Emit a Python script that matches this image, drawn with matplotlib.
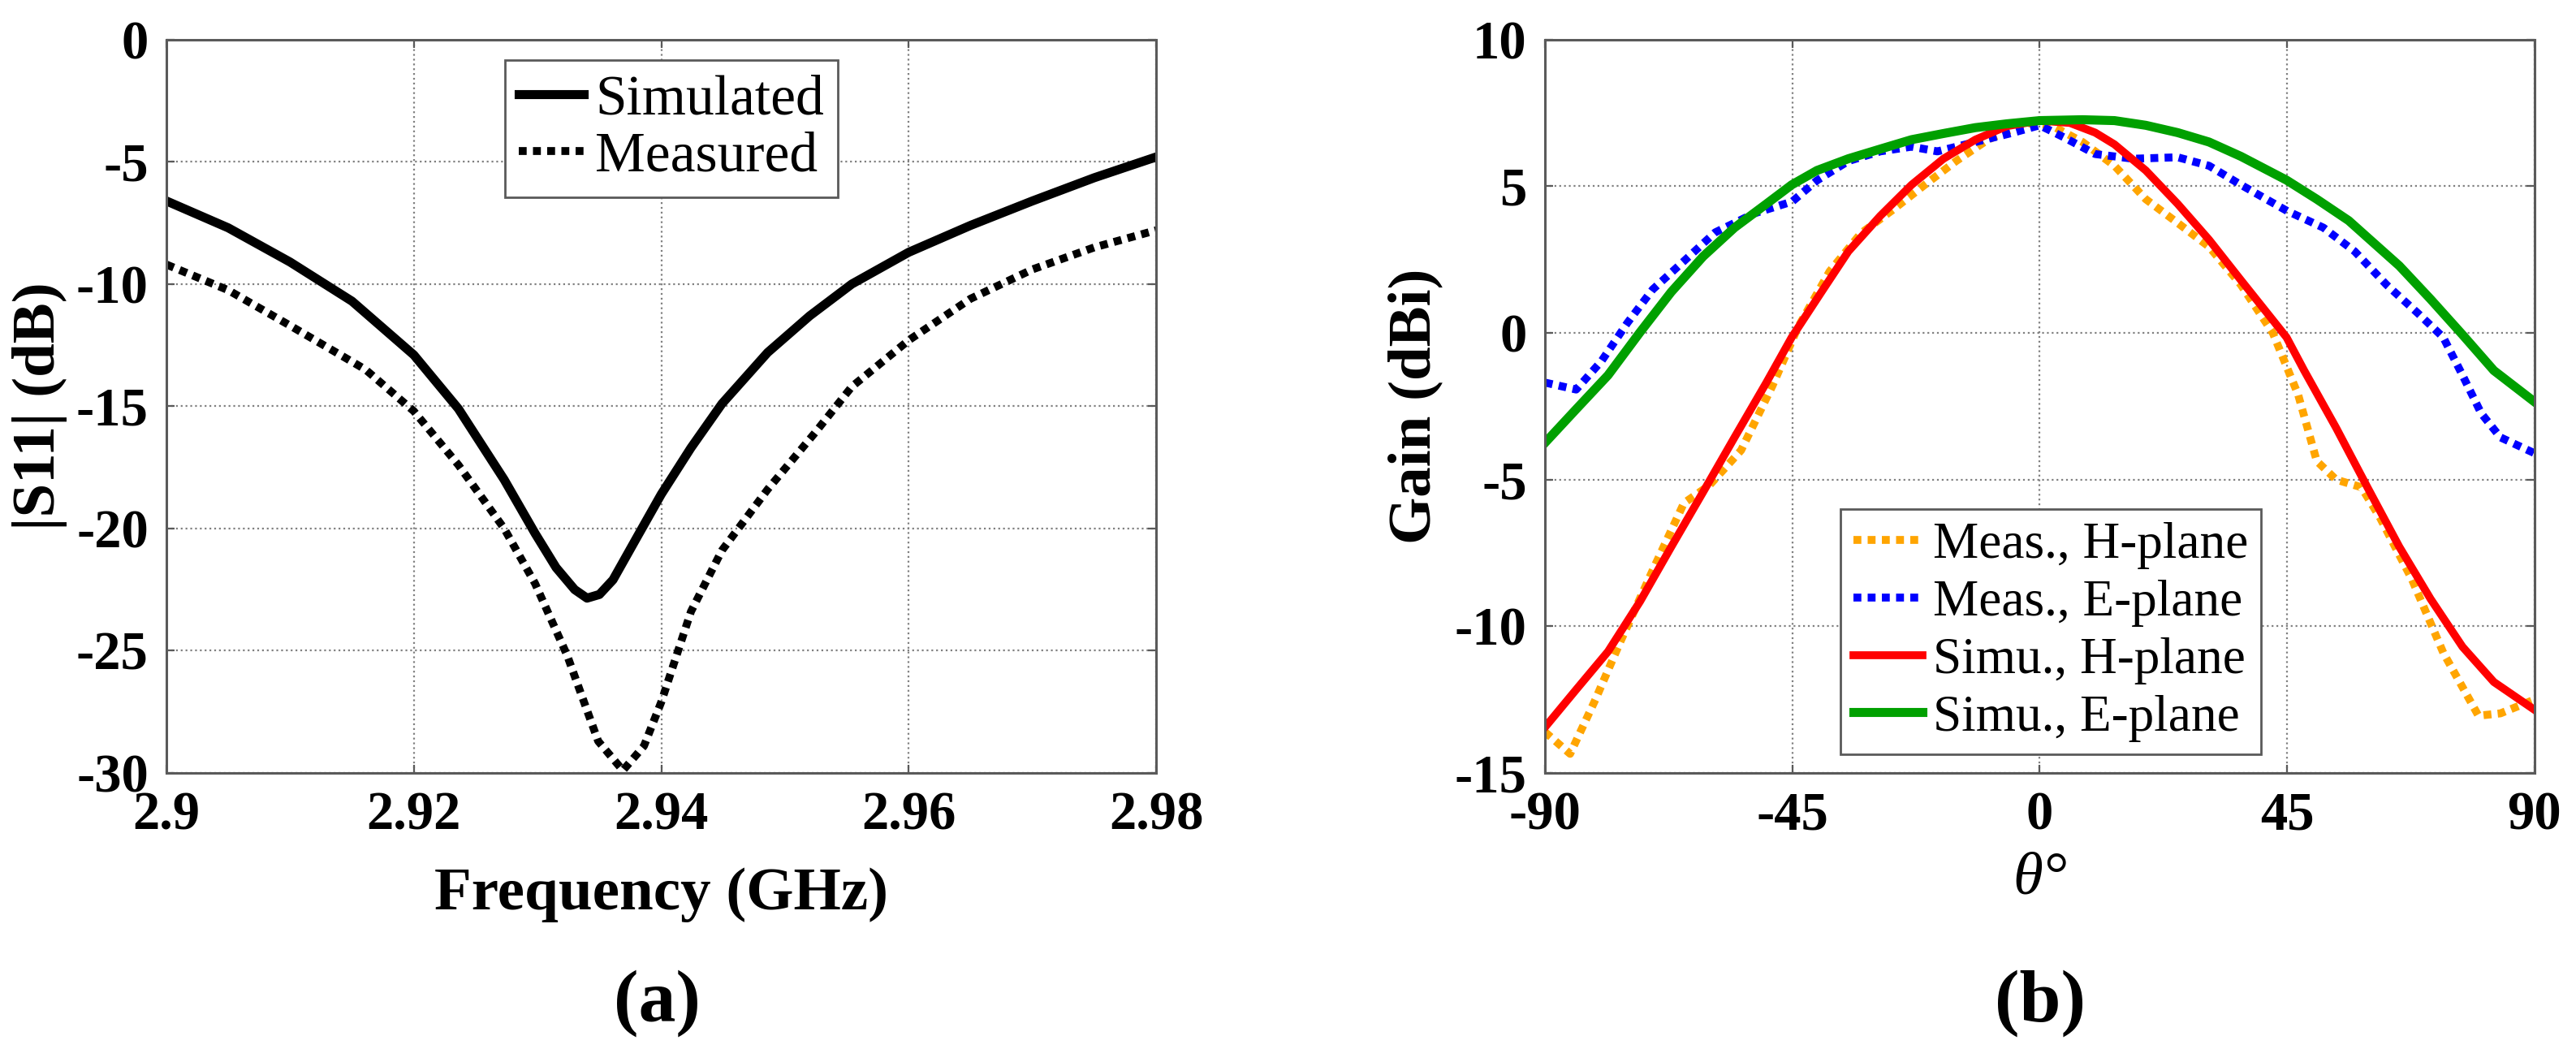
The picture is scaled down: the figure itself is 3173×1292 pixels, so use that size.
import matplotlib
matplotlib.use('Agg')
import matplotlib.pyplot as plt

plt.rcParams['font.family'] = ['Liberation Serif', 'DejaVu Serif']
plt.rcParams['axes.unicode_minus'] = False

# (a) reflection coefficient
freq_sim = [2.900, 2.905, 2.910, 2.915, 2.920, 2.9236, 2.9273, 2.9298, 2.9315, 2.933, 2.934,
            2.935, 2.9361, 2.9381, 2.940, 2.9424, 2.9449, 2.9486, 2.952, 2.9554, 2.960,
            2.965, 2.970, 2.975, 2.980]
s11_sim = [-6.6, -7.7, -9.1, -10.7, -12.9, -15.1, -18.0, -20.2, -21.6, -22.5, -22.85,
           -22.7, -22.1, -20.3, -18.6, -16.7, -14.9, -12.8, -11.3, -10.0, -8.7,
           -7.6, -6.6, -5.65, -4.8]

freq_meas = [2.900, 2.905, 2.910, 2.9161, 2.920, 2.9236, 2.9273, 2.9298, 2.9324, 2.9349,
             2.9369, 2.9386, 2.940, 2.9424, 2.9449, 2.9486, 2.9524, 2.9554, 2.960,
             2.965, 2.970, 2.975, 2.980]
s11_meas = [-9.2, -10.25, -11.7, -13.5, -15.2, -17.4, -20.0, -22.25, -25.2, -28.7,
            -29.9, -28.9, -27.1, -23.4, -20.9, -18.4, -16.1, -14.2, -12.3,
            -10.6, -9.4, -8.5, -7.8]

freq_ticks = [2.9, 2.92, 2.94, 2.96, 2.98]
freq_ticklabels = ['2.9', '2.92', '2.94', '2.96', '2.98']
s11_ticks = [-30, -25, -20, -15, -10, -5, 0]

# (b) radiation patterns
theta_e_sim = [-90, -84.3, -78.5, -72.7, -67.0, -61.2, -55.5, -49.7, -45.1, -40.5, -34.8, -29.0,
               -23.3, -17.5, -11.7, -6.0, 0, 7.8, 13.6, 19.3, 25.1, 30.8, 36.6, 44.9, 50.4,
               56.2, 59.6, 65.4, 71.1, 76.9, 82.6, 90]
gain_e_sim = [-3.75, -2.60, -1.44, 0.02, 1.40, 2.61, 3.59, 4.40, 5.05, 5.54, 5.94, 6.27,
              6.59, 6.80, 7.0, 7.13, 7.24, 7.27, 7.24, 7.08, 6.83, 6.51, 6.02, 5.21, 4.56,
              3.83, 3.26, 2.29, 1.15, -0.06, -1.28, -2.35]

theta_h_sim = [-90, -84.3, -78.5, -72.7, -67.0, -61.2, -55.5, -49.7, -45.1, -39.4, -34.8, -29.0,
               -23.3, -17.5, -11.7, -6.0, 0, 5.5, 10.1, 13.6, 19.3, 25.1, 30.8, 36.6, 44.9,
               48.1, 53.9, 59.6, 65.4, 71.1, 76.9, 82.6, 90]
gain_h_sim = [-13.45, -12.16, -10.86, -9.16, -7.29, -5.42, -3.56, -1.69, -0.15, 1.48, 2.78, 3.99,
              5.05, 5.94, 6.59, 7.05, 7.24, 7.16, 6.83, 6.43, 5.54, 4.40, 3.18, 1.80, -0.15,
              -1.28, -3.23, -5.26, -7.29, -9.07, -10.70, -11.9, -12.85]

theta_h_meas = [-90, -85.4, -80.8, -76.2, -70.4, -64.7, -60.1, -54.3, -48.6, -44, -38.2, -32.5, -26.7,
                -20.9, -15.2, -9.4, -2.5, 2.1, 7.8, 13.6, 19.3, 25.1, 30.8, 36.6, 42.4, 47, 50.4,
                53.9, 58.5, 61.9, 67.7, 73.4, 79.8, 83.8, 90]
gain_h_meas = [-13.6, -14.35, -12.5, -10.5, -8.1, -5.8, -5.2, -4.0, -1.8, 0.18, 2.1, 3.4, 4.2,
               5.05, 5.86, 6.59, 7.16, 7.08, 6.51, 5.7, 4.56, 3.75, 2.94, 1.64, 0.0, -2.1, -4.37,
               -5.0, -5.26, -6.3, -8.4, -10.9, -13.05, -12.97, -12.5]

theta_e_meas = [-90, -84.3, -79.7, -75.0, -70.4, -64.7, -59, -52.0, -45, -40.5, -34.8, -29, -23.3,
                -18.6, -11.7, -4.8, 0, 4.4, 10.1, 17.0, 25.1, 30.8, 36.6, 45, 51.6, 57.3, 63.1,
                68.8, 73.4, 76.9, 80.3, 83.8, 90]
gain_e_meas = [-1.69, -1.93, -0.96, 0.34, 1.48, 2.45, 3.43, 4.07, 4.48, 5.2, 5.86, 6.19, 6.35,
               6.19, 6.51, 6.83, 7.08, 6.67, 6.1, 5.94, 5.99, 5.7, 5.05, 4.16, 3.59, 2.78, 1.64,
               0.67, -0.15, -1.44, -2.74, -3.56, -4.1]

theta_ticks = [-90, -45, 0, 45, 90]
gain_ticks = [-15, -10, -5, 0, 5, 10]

spine_col = '#5a5a5a'
tick_fs = 48
label_fs = 54
dots = (1, 0.8)

fig = plt.figure(figsize=(31.73, 12.92), dpi=100)
ax1 = fig.add_axes([0.0646, 0.2632, 0.3842, 0.699])
ax2 = fig.add_axes([0.5997, 0.2632, 0.3842, 0.699])


def style_axes(ax):
    for s in ax.spines.values():
        s.set_color(spine_col)
        s.set_linewidth(2.2)
    ax.tick_params(direction='in', length=7, width=1.6, color=spine_col,
                   top=True, right=True, labelsize=tick_fs, pad=16)
    ax.grid(True, linestyle=':', color='#808080', linewidth=1.6)
    for lab in ax.get_xticklabels() + ax.get_yticklabels():
        lab.set_fontweight('bold')


# panel (a)
ax1.plot(freq_sim, s11_sim, color='black', linewidth=8, label='Simulated')
ax1.plot(freq_meas, s11_meas, color='black', linewidth=7, linestyle=(0, dots), label='Measured')
ax1.set_xlim(2.9, 2.98)
ax1.set_ylim(-30, 0)
ax1.set_xticks(freq_ticks)
ax1.set_xticklabels(freq_ticklabels)
ax1.set_yticks(s11_ticks)
style_axes(ax1)
ax1.set_xlabel('Frequency (GHz)', fontsize=label_fs, fontweight='bold')
ax1.set_ylabel('|S11| (dB)', fontsize=label_fs, fontweight='bold')
ax1.xaxis.set_label_coords(0.5, -0.128)
ax1.yaxis.set_label_coords(-0.1, 0.5)
leg1 = ax1.legend(loc='upper left', bbox_to_anchor=(0.342, 0.972), borderaxespad=0,
                  fontsize=50, handlelength=1.15, handletextpad=0.2, labelspacing=0.1,
                  borderpad=0.25, fancybox=False, framealpha=1)
leg1.get_frame().set_edgecolor(spine_col)
leg1.get_frame().set_linewidth(2)

# panel (b)
ax2.plot(theta_h_meas, gain_h_meas, color='#ffa500', linewidth=7, linestyle=(0, dots), label='Meas., H-plane')
ax2.plot(theta_e_meas, gain_e_meas, color='#0000ff', linewidth=7, linestyle=(0, dots), label='Meas., E-plane')
ax2.plot(theta_h_sim, gain_h_sim, color='#ff0000', linewidth=7, label='Simu., H-plane')
ax2.plot(theta_e_sim, gain_e_sim, color='#00a000', linewidth=8, label='Simu., E-plane')
ax2.set_xlim(-90, 90)
ax2.set_ylim(-15, 10)
ax2.set_xticks(theta_ticks)
ax2.set_yticks(gain_ticks)
style_axes(ax2)
ax2.set_xlabel('θ°', fontsize=label_fs, fontstyle='italic')
ax2.set_ylabel('Gain (dBi)', fontsize=label_fs, fontweight='bold')
ax2.xaxis.set_label_coords(0.5, -0.108)
ax2.yaxis.set_label_coords(-0.103, 0.5)
leg2 = ax2.legend(loc='lower left', bbox_to_anchor=(0.299, 0.025), borderaxespad=0,
                  fontsize=45.5, handlelength=1.35, handletextpad=0.2, labelspacing=0.2,
                  borderpad=0.25, fancybox=False, framealpha=1)
leg2.get_frame().set_edgecolor(spine_col)
leg2.get_frame().set_linewidth(2)

fig.text(0.255, 0.044, '(a)', fontsize=66, fontweight='bold', ha='center', va='center')
fig.text(0.792, 0.044, '(b)', fontsize=66, fontweight='bold', ha='center', va='center')

fig.savefig('out.png', dpi=100)
